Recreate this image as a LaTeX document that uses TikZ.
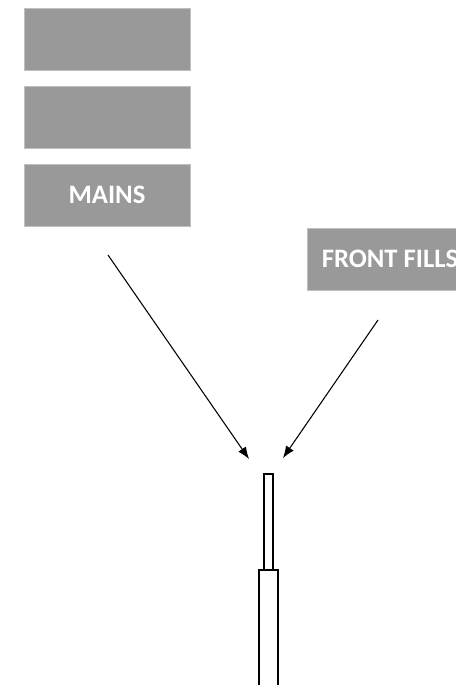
\documentclass[tikz,border=0pt]{standalone}
\usepackage{fontspec}
\setmainfont{Carlito}
\usetikzlibrary{arrows.meta}

\begin{document}
\begin{tikzpicture}[x=0.75pt,y=-0.75pt,
  spkbox/.style={fill=black!40,draw=black!25,line width=0.4pt,minimum width=124.5pt,minimum height=46.5pt,inner sep=0pt,text=white,font=\fontsize{20}{22}\selectfont\bfseries},
  aim/.style={line width=0.8pt,-{Latex[length=9pt,width=7pt]}}]

\clip (0,0) rectangle (456,685);

   \node (top) at (107, 39) [spkbox] {};
   \node (mid) at (107, 117) [spkbox] {};
   \node (mains) at (107, 195) [spkbox] {MAINS};
   \node (fronts) at (390, 259) [spkbox] {FRONT FILLS};

% mast
\draw [line width=0.8pt] (264, 474) rectangle (273, 570);
\draw [line width=0.8pt] (259, 570) rectangle (278, 690);

\coordinate (mainsfrom) at (108, 255);
\coordinate (mainsto) at (249, 459);
\coordinate (frontsfrom) at (378, 320);
\coordinate (frontsto) at (283, 458);

\draw [aim] (mainsfrom) -- (mainsto);
\draw [aim] (frontsfrom) -- (frontsto);
    \end{tikzpicture}
\end{document}
